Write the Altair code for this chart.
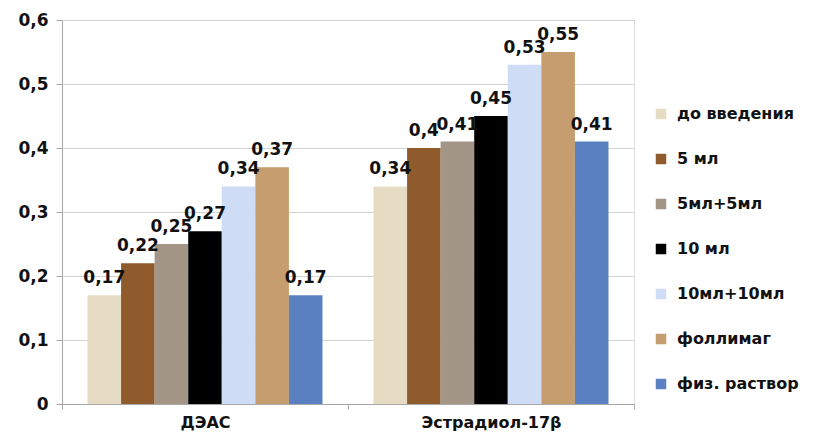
import altair as alt
import pandas as pd

groups = ["ДЭАС", "Эстрадиол-17β"]
series = ["до введения", "5 мл", "5мл+5мл", "10 мл", "10мл+10мл", "фоллимаг", "физ. раствор"]
deas = [0.17, 0.22, 0.25, 0.27, 0.34, 0.37, 0.17]
estr = [0.34, 0.40, 0.41, 0.45, 0.53, 0.55, 0.41]
colors = ["#e6dbc3", "#8f5a2c", "#a39687", "#000000", "#cedcf6", "#c59d6e", "#5b80c2"]

rows = []
for g, vals in zip(groups, [deas, estr]):
    for s, v in zip(series, vals):
        rows.append({"group": g, "series": s, "value": v})
df = pd.DataFrame(rows)

FONT = "DejaVu Sans"

base = alt.Chart(df).encode(
    x=alt.X("group:N", sort=groups, title=None,
            scale=alt.Scale(paddingInner=0, paddingOuter=0),
            axis=alt.Axis(labelAngle=0, labelFont=FONT, labelFontSize=16, labelFontWeight="bold",
                          labelColor="#111111", labelPadding=5, tickBand="extent",
                          domainColor="#a6a6a6", tickColor="#a6a6a6", tickSize=5, grid=False)),
    xOffset=alt.XOffset("series:N", sort=series,
                        scale=alt.Scale(paddingInner=0, paddingOuter=0.76)),
)

bars = base.mark_bar(stroke=None).encode(
    y=alt.Y("value:Q", title=None,
            scale=alt.Scale(domain=[0, 0.6], nice=False),
            axis=alt.Axis(values=[0, 0.1, 0.2, 0.3, 0.4, 0.5, 0.6],
                          labelExpr="datum.value == 0 ? '0' : replace(format(datum.value, '.1f'), '.', ',')",
                          labelFont=FONT, labelFontSize=17, labelFontWeight="bold", labelColor="#111111",
                          labelPadding=8, domainColor="#a6a6a6", tickColor="#a6a6a6", tickSize=6,
                          gridColor="#d4d4d4")),
    color=alt.Color("series:N", sort=series,
                    scale=alt.Scale(domain=series, range=colors),
                    legend=alt.Legend(title=None, orient="none", legendX=591, legendY=86,
                                      symbolType="square", symbolSize=110, symbolStrokeWidth=0,
                                      labelFont=FONT, labelFontSize=16, labelFontWeight="bold",
                                      labelColor="#111111", rowPadding=29, labelOffset=8,
                                      labelLimit=200)),
)

labels = base.transform_calculate(
    lab="replace(format(datum.value, '.2~f'), '.', ',')"
).mark_text(baseline="bottom", dy=-8, font=FONT, fontSize=17, fontWeight="bold", color="#111111").encode(
    y=alt.Y("value:Q"),
    text=alt.Text("lab:N"),
)

chart = alt.layer(bars, labels).properties(
    width=572, height=384,
    autosize=alt.AutoSizeParams(type="none"),
    padding={"left": 54, "top": 12, "right": 171, "bottom": 31},
).configure_view(stroke=None).configure(background="white")

chart.save("out.html", embed_options={"renderer": "svg", "actions": False})
